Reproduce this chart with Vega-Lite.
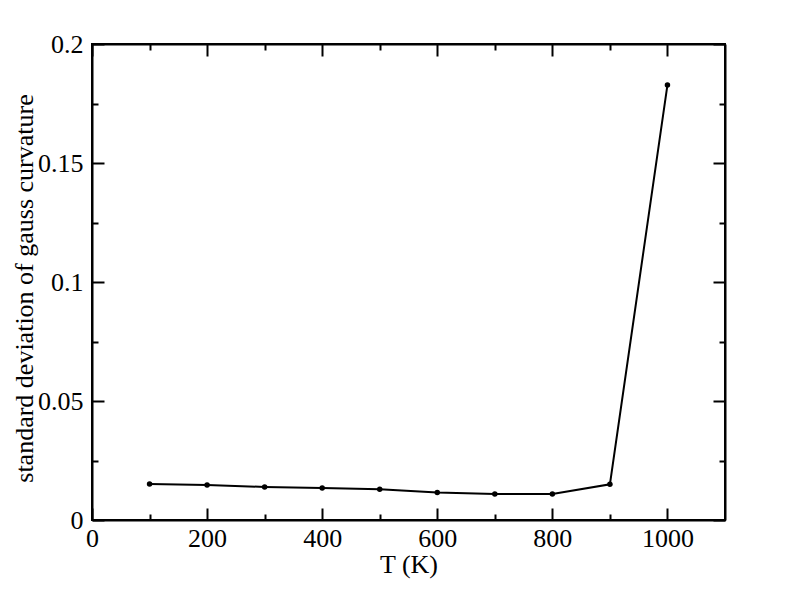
{
  "$schema": "https://vega.github.io/schema/vega-lite/v6.json",
  "width": 633,
  "height": 476,
  "autosize": "none",
  "padding": {"left": 92, "top": 44, "right": 67, "bottom": 92},
  "background": "white",
  "config": {
    "view": {"stroke": "black", "strokeWidth": 2},
    "axis": {
      "domainColor": "black", "domainWidth": 2, "tickColor": "black", "tickWidth": 2,
      "grid": false, "labelFont": "Liberation Serif", "labelFontSize": 26, "labelColor": "black", "labelFlush": false,
      "titleFont": "Liberation Serif", "titleFontSize": 26, "titleFontWeight": "normal", "titleColor": "black"
    }
  },
  "data": {"values": [
    {"T": 100, "s": 0.0151},
    {"T": 200, "s": 0.0147},
    {"T": 300, "s": 0.0139},
    {"T": 400, "s": 0.0134},
    {"T": 500, "s": 0.0129},
    {"T": 600, "s": 0.0116},
    {"T": 700, "s": 0.0109},
    {"T": 800, "s": 0.0109},
    {"T": 900, "s": 0.0150},
    {"T": 1000, "s": 0.1828}
  ]},
  "layer": [
    {
      "mark": {"type": "line", "color": "black", "strokeWidth": 2, "point": {"filled": true, "color": "black", "size": 30}},
      "encoding": {
        "x": {"field": "T", "type": "quantitative", "scale": {"domain": [0, 1100], "nice": false, "zero": false},
          "axis": {"orient": "bottom", "title": "T (K)", "values": [0,100,200,300,400,500,600,700,800,900,1000],
            "tickSize": {"condition": {"test": "datum.value % 200 === 0", "value": -12}, "value": -6},
            "labelExpr": "datum.value % 200 === 0 ? format(datum.value, 'd') : ''",
            "labelPadding": 17, "titleBaseline": "alphabetic", "titleY": 52}},
        "y": {"field": "s", "type": "quantitative", "scale": {"domain": [0, 0.2], "nice": false, "zero": false},
          "axis": {"orient": "left", "title": "standard deviation of gauss curvature",
            "values": [0,0.025,0.05,0.075,0.1,0.125,0.15,0.175,0.2],
            "tickSize": {"condition": {"test": "round(datum.value*1000) % 50 === 0", "value": -12}, "value": -6},
            "labelExpr": "round(datum.value*1000) % 50 === 0 ? format(datum.value, '~g') : ''",
            "labelPadding": 21, "titleBaseline": "alphabetic", "titleX": -60, "titleY": 244}}
      }
    },
    {
      "mark": {"type": "point", "opacity": 0},
      "encoding": {
        "x": {"field": "T", "type": "quantitative", "scale": {"domain": [0, 1100], "nice": false, "zero": false},
          "axis": {"orient": "top", "title": null, "labels": false, "values": [0,100,200,300,400,500,600,700,800,900,1000],
            "tickSize": {"condition": {"test": "datum.value % 200 === 0", "value": -12}, "value": -6}}},
        "y": {"field": "s", "type": "quantitative", "scale": {"domain": [0, 0.2], "nice": false, "zero": false},
          "axis": {"orient": "right", "title": null, "labels": false,
            "values": [0,0.025,0.05,0.075,0.1,0.125,0.15,0.175,0.2],
            "tickSize": {"condition": {"test": "round(datum.value*1000) % 50 === 0", "value": -12}, "value": -6}}}
      }
    }
  ],
  "resolve": {"axis": {"x": "independent", "y": "independent"}}
}
